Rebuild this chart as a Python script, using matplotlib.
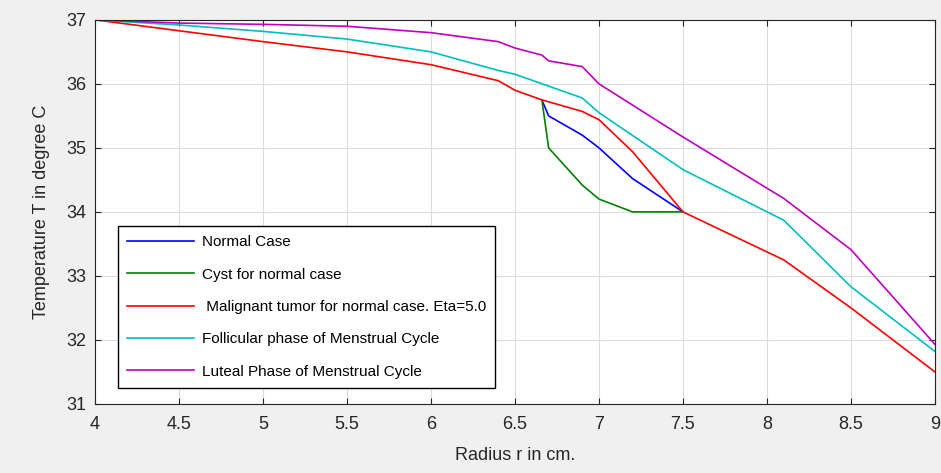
import matplotlib
matplotlib.use("Agg")
import matplotlib.pyplot as plt

# --- datos ----------------------------------------------------------------------
r_normal = [6.66, 6.70, 6.90, 7.00, 7.20, 7.50]
t_normal = [35.75, 35.50, 35.20, 35.00, 34.52, 34.00]

r_cyst = [6.66, 6.70, 6.90, 7.00, 7.20, 7.50]
t_cyst = [35.75, 35.00, 34.42, 34.20, 34.00, 34.00]

r_malig = [4.0, 4.5, 5.0, 5.5, 6.0, 6.4, 6.5, 6.66, 6.9, 7.0, 7.2, 7.5, 8.1, 8.5, 9.0]
t_malig = [37.0, 36.83, 36.66, 36.5, 36.3, 36.05, 35.9, 35.75, 35.57, 35.44,
           34.94, 34.0, 33.25, 32.5, 31.5]

r_foll = [4.0, 4.5, 5.0, 5.5, 6.0, 6.4, 6.5, 6.9, 7.0, 7.5, 8.1, 8.5, 9.0]
t_foll = [37.0, 36.92, 36.82, 36.7, 36.5, 36.21, 36.15, 35.78, 35.55, 34.66,
          33.87, 32.83, 31.82]

r_lut = [4.0, 4.5, 5.0, 5.5, 6.0, 6.4, 6.5, 6.66, 6.7, 6.9, 7.0, 7.5, 8.1, 8.5, 9.0]
t_lut = [37.0, 36.95, 36.93, 36.9, 36.8, 36.66, 36.56, 36.45, 36.36, 36.27,
         36.0, 35.17, 34.21, 33.41, 31.93]

labels = [
    "Normal Case",
    "Cyst for normal case",
    " Malignant tumor for normal case. Eta=5.0",
    "Follicular phase of Menstrual Cycle",
    "Luteal Phase of Menstrual Cycle",
]
colors = ["#0000ff", "#008000", "#ff0000", "#00bfbf", "#bf00bf"]

x_ticks = [4, 4.5, 5, 5.5, 6, 6.5, 7, 7.5, 8, 8.5, 9]
x_ticklabels = ["4", "4.5", "5", "5.5", "6", "6.5", "7", "7.5", "8", "8.5", "9"]
y_ticks = [31, 32, 33, 34, 35, 36, 37]

plt.rcParams["font.family"] = ["Liberation Sans", "DejaVu Sans"]

fig = plt.figure(figsize=(9.41, 4.73), dpi=100, facecolor="#f0f0f0")
ax = fig.add_axes([0.101, 0.146, 0.8926, 0.812])

series = [(r_normal, t_normal), (r_cyst, t_cyst), (r_malig, t_malig),
          (r_foll, t_foll), (r_lut, t_lut)]
for (r, t), lab, c in zip(series, labels, colors):
    ax.plot(r, t, color=c, linewidth=1.2, label=lab)

ax.set_xlim(4, 9)
ax.set_ylim(31, 37)
ax.set_xticks(x_ticks)
ax.set_xticklabels(x_ticklabels)
ax.set_yticks(y_ticks)
ax.tick_params(direction="in", top=True, right=True, length=4, width=0.8,
               labelsize=13, colors="#262626")
ax.tick_params(axis="x", pad=9)
ax.tick_params(axis="y", pad=6)
ax.grid(True, color="#dcdcdc", linewidth=0.8)
ax.set_axisbelow(True)
for s in ax.spines.values():
    s.set_color("#262626")
    s.set_linewidth(0.8)

ax.set_xlabel("Radius r in cm.", fontsize=13, color="#262626", labelpad=10)
ax.set_ylabel("Temperature T in degree C", fontsize=13, color="#262626", labelpad=12)

leg = ax.legend(loc="lower left", bbox_to_anchor=(0.027, 0.042), fontsize=11,
                frameon=True, fancybox=False, edgecolor="black", framealpha=1,
                handlelength=4.4, labelspacing=1.2, borderpad=0.6,
                handletextpad=0.5, borderaxespad=0)
leg.get_frame().set_linewidth(1.0)

fig.savefig("out.png", dpi=100, facecolor=fig.get_facecolor())
